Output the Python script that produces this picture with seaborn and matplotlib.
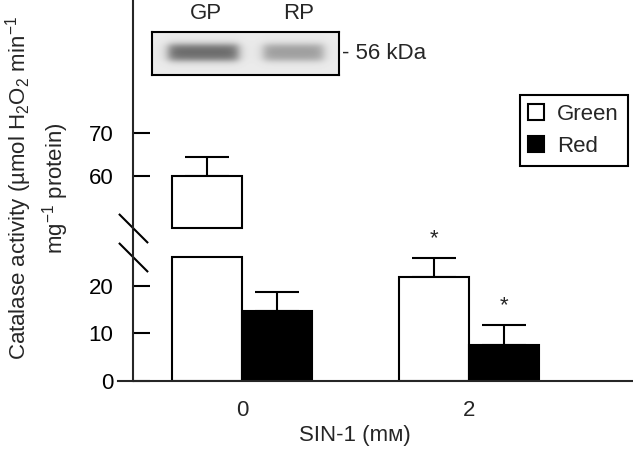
import numpy as np
import pandas as pd
import matplotlib
matplotlib.use("Agg")
import matplotlib.pyplot as plt
import seaborn as sns
from matplotlib.container import BarContainer
from matplotlib.transforms import blended_transform_factory

# data
CONC       = ["0", "2"]
LEAF       = ["Green", "Red"]
GREEN_MEAN = [60.0, 21.9]
GREEN_SEM  = [4.4, 4.0]
RED_MEAN   = [14.7, 7.6]
RED_SEM    = [4.0, 4.2]
GREEN_SIG  = [False, True]
RED_SIG    = [False, True]

BLOT_LANES  = ["GP", "RP"]
BLOT_BAND   = [0.5, 0.3]
BLOT_MARKER = "56 kDa"

# broken axis limits
LOW_LIM  = (0, 32.2)
UP_LIM   = (47.9, 100.9)
BREAK_LO = 26.1
BREAK_HI = UP_LIM[0]

W, H = 633, 454
XLIM = (-0.546, 1.718)
SPINE_X = 15 / 514
FS = 16

df = pd.DataFrame({
    "conc": CONC * 2,
    "leaf": [LEAF[0]] * 2 + [LEAF[1]] * 2,
    "mean": GREEN_MEAN + RED_MEAN,
    "sem":  GREEN_SEM + RED_SEM,
    "sig":  GREEN_SIG + RED_SIG,
})

sns.set_style("ticks")
plt.rcParams["font.family"] = ["Liberation Sans", "DejaVu Sans"]
plt.rcParams["mathtext.fontset"] = "custom"
plt.rcParams["mathtext.rm"] = "Liberation Sans"
plt.rcParams["mathtext.it"] = "Liberation Sans:italic"
plt.rcParams["mathtext.bf"] = "Liberation Sans:bold"


def rect(x0, y0, x1, y1):
    return [x0 / W, 1 - y1 / H, (x1 - x0) / W, (y1 - y0) / H]


fig = plt.figure(figsize=(W / 100, H / 100), dpi=100)
ax_low = fig.add_axes(rect(118, 228, 632, 381))
ax_up  = fig.add_axes(rect(118, 0, 632, 228))

palette = {"Green": "white", "Red": "black"}
for ax in (ax_low, ax_up):
    sns.barplot(data=df, x="conc", y="mean", hue="leaf", hue_order=LEAF,
                order=CONC, palette=palette, edgecolor="black", linewidth=1.5,
                width=0.62, errorbar=None, ax=ax)
    ax.set_xlim(*XLIM)
    ax.set_xlabel("")
    ax.set_ylabel("")
    for s in ("top", "right"):
        ax.spines[s].set_visible(False)
    ax.spines["left"].set_position(("axes", SPINE_X))
    ax.spines["left"].set_linewidth(1.5)
    ax.spines["bottom"].set_linewidth(1.5)
    ax.tick_params(axis="y", direction="in", length=12, width=1.5,
                   pad=14, labelsize=FS, colors="black")

ax_low.set_ylim(*LOW_LIM)
ax_up.set_ylim(*UP_LIM)
ax_low.set_yticks([0, 10, 20])
ax_up.set_yticks([60, 70])
ax_up.spines["bottom"].set_visible(False)
ax_up.set_xticks([])
ax_low.tick_params(axis="x", length=0, pad=14, labelsize=FS)

handles, labels = ax_low.get_legend_handles_labels()
ax_low.get_legend().remove()
ax_up.get_legend().remove()

# cut the bars at the break and add the error bars / stars
for ax, lo, hi in ((ax_low, LOW_LIM[0], BREAK_LO), (ax_up, BREAK_HI, UP_LIM[1])):
    bars = [c for c in ax.containers if isinstance(c, BarContainer)]
    for li, cont in enumerate(bars):
        for ci, bar in enumerate(cont):
            row = df[(df["leaf"] == LEAF[li]) & (df["conc"] == CONC[ci])].iloc[0]
            h = bar.get_height()
            cx = bar.get_x() + bar.get_width() / 2
            if ax is ax_up:
                if h <= BREAK_HI:
                    bar.set_visible(False)
                    continue
                bar.set_y(BREAK_HI)
                bar.set_height(h - BREAK_HI)
                bar.set_clip_on(False)
            elif h > BREAK_LO:
                bar.set_height(BREAK_LO)
                continue
            if lo <= row["mean"] <= hi:
                ax.errorbar(cx, row["mean"], yerr=[[0], [row["sem"]]], fmt="none",
                            ecolor="black", elinewidth=1.5, capsize=15.5,
                            capthick=1.5, zorder=0.5)
                if row["sig"]:
                    ax.annotate("*", xy=(cx, row["mean"] + row["sem"]),
                                xytext=(0, 10), textcoords="offset points",
                                ha="center", va="baseline", fontsize=FS)

# break marks on the y axis
for ax, yb in ((ax_low, BREAK_LO), (ax_up, BREAK_HI)):
    tr = blended_transform_factory(ax.transAxes, ax.transData)
    ax.plot([SPINE_X], [yb], marker=[(-1, 1), (1, -1)], markersize=21,
            markeredgewidth=1.5, color="black", transform=tr, clip_on=False)

ax_up.legend(handles, labels, loc="upper right",
             bbox_to_anchor=(628 / W, 1 - 95 / H), bbox_transform=fig.transFigure,
             fontsize=FS, frameon=True, fancybox=False, framealpha=1,
             edgecolor="black", handlelength=0.7, handleheight=0.7,
             handletextpad=0.6, labelspacing=0.5, borderpad=0.4,
             borderaxespad=0)
ax_up.get_legend().get_frame().set_linewidth(1.5)

ax_low.set_xlabel("SIN-1 (mᴍ)", fontsize=FS)
ax_low.xaxis.set_label_coords(0.461, -0.29)

fig.text(37 / W, 1 - 188 / H,
         "Catalase activity (µmol H$_2$O$_2$ min$^{-1}$\nmg$^{-1}$ protein)",
         rotation=90, ha="center", va="center", multialignment="center",
         fontsize=FS, linespacing=1.3)

# western blot inset
blot = fig.add_axes(rect(152, 32, 339, 75))
rows, cols = 43, 187
yy, xx = np.mgrid[0:rows, 0:cols]
lane_c = [51, 141]
lane_hw = [35, 30]
img = np.full((rows, cols), 0.08)
for c, hw, amp in zip(lane_c, lane_hw, BLOT_BAND):
    hprof = 1 / (1 + np.exp((np.abs(xx - c) - hw) / 3.0))
    vprof = 1 / (1 + np.exp((np.abs(yy - 20) - 8) / 2.0))
    img += amp * hprof * vprof
blot.imshow(img, cmap="gray_r", vmin=0, vmax=1, aspect="auto",
            interpolation="bilinear")
blot.set_yticks([])
blot.xaxis.tick_top()
blot.set_xticks([53, 146])
blot.set_xticklabels(BLOT_LANES)
blot.tick_params(axis="x", length=0, pad=6, labelsize=FS)
for s in blot.spines.values():
    s.set_visible(True)
    s.set_linewidth(1.5)
    s.set_color("black")
blot.annotate("- " + BLOT_MARKER, xy=(1, 0.5), xycoords="axes fraction",
              xytext=(2, 0), textcoords="offset points",
              ha="left", va="center", fontsize=FS)

fig.savefig("out.png", dpi=100)
